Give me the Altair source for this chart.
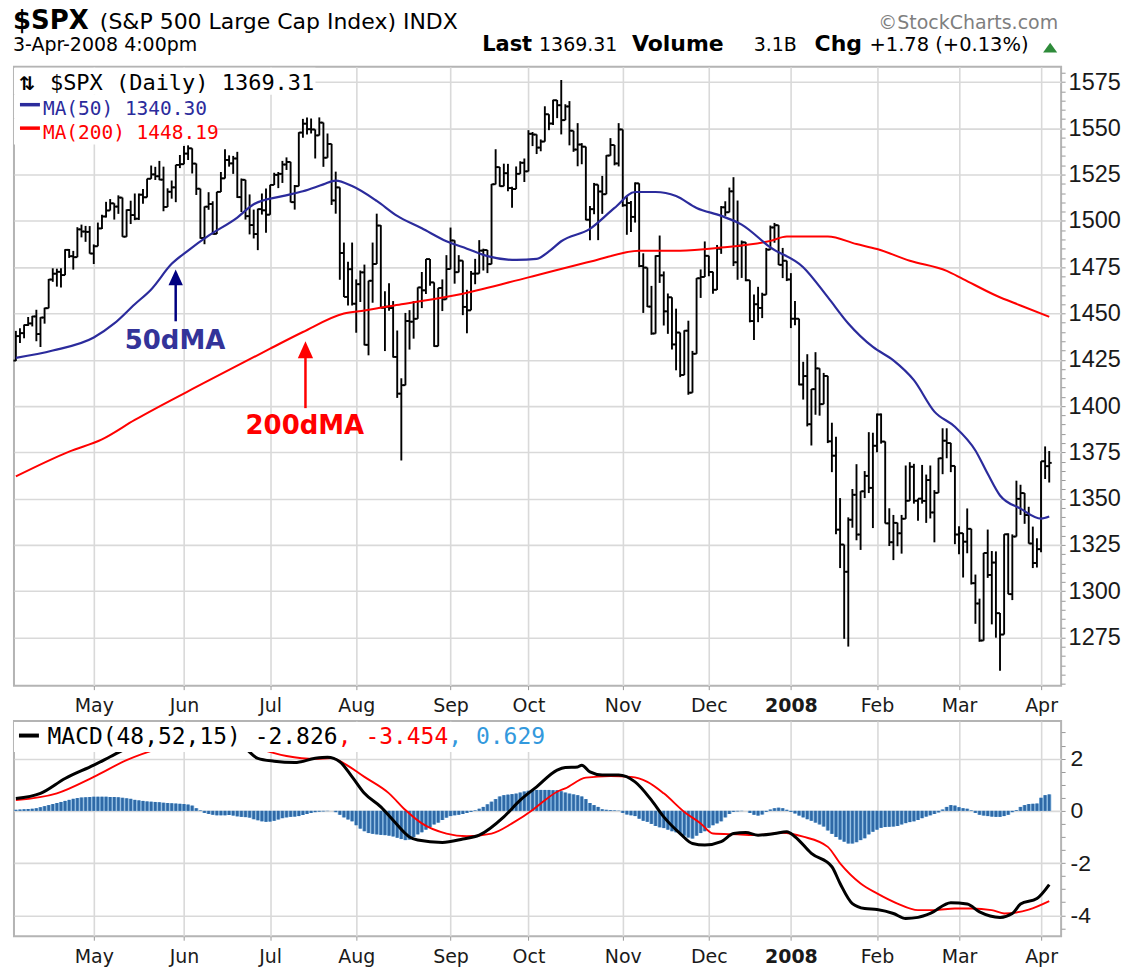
import altair as alt
import pandas as pd
import numpy as np

# ---------------- data ----------------
prev_close = 1424.55  # close of the day before the first bar (open of first bar)

closes = [
    # Apr 2007
    1437.77, 1439.37, 1443.76, 1444.61, 1448.39, 1438.87, 1447.80, 1452.85, 1468.33, 1471.48,
    1472.50, 1470.73, 1484.35, 1480.93, 1480.41, 1495.42, 1494.25, 1494.07, 1482.37,
    # May
    1486.30, 1495.92, 1502.39, 1505.62, 1509.48, 1507.72, 1512.58, 1491.47, 1505.85, 1503.15,
    1501.19, 1514.14, 1512.75, 1522.75, 1525.10, 1524.12, 1522.28, 1507.51, 1515.73, 1518.11,
    1530.23, 1530.62,
    # Jun
    1536.34, 1539.18, 1530.95, 1517.38, 1490.72, 1507.67, 1509.12, 1493.00, 1515.67, 1522.97,
    1532.91, 1531.05, 1533.70, 1512.84, 1522.19, 1502.56, 1497.74, 1492.89, 1506.34, 1505.71,
    1503.35,
    # Jul
    1519.43, 1524.87, 1525.40, 1530.44, 1531.85, 1510.12, 1518.76, 1547.70, 1552.50, 1549.52,
    1549.37, 1546.17, 1553.08, 1534.10, 1541.57, 1511.04, 1518.09, 1482.66, 1458.95, 1473.91,
    1455.27,
    # Aug
    1465.81, 1472.20, 1433.06, 1467.67, 1476.71, 1497.49, 1453.09, 1453.64, 1452.92, 1426.54,
    1406.70, 1411.27, 1445.94, 1445.55, 1447.12, 1464.07, 1462.50, 1479.37, 1466.79, 1432.36,
    1463.76, 1457.64, 1473.99,
    # Sep
    1489.42, 1472.29, 1478.55, 1453.55, 1451.70, 1471.49, 1471.56, 1483.95, 1484.25, 1476.65,
    1519.78, 1529.03, 1518.75, 1525.75, 1517.73, 1517.21, 1525.42, 1531.38, 1526.75,
    # Oct
    1547.04, 1546.63, 1539.59, 1542.84, 1557.59, 1552.58, 1565.15, 1562.47, 1554.41, 1561.80,
    1548.71, 1538.53, 1541.24, 1540.08, 1500.63, 1506.33, 1519.59, 1515.88, 1514.40, 1535.28,
    1540.98, 1531.02, 1549.38,
    # Nov
    1508.44, 1509.65, 1502.17, 1520.27, 1475.62, 1474.77, 1453.70, 1439.18, 1481.05, 1470.58,
    1451.15, 1458.74, 1433.27, 1439.70, 1416.77, 1440.70, 1407.22, 1428.23, 1469.02, 1469.72,
    1481.14,
    # Dec
    1472.42, 1462.79, 1485.01, 1507.34, 1504.66, 1515.96, 1477.65, 1486.59, 1488.41, 1467.95,
    1445.90, 1454.98, 1453.00, 1460.12, 1484.46, 1496.45, 1497.66, 1476.27, 1478.49, 1468.36,
    # Jan 2008
    1447.16, 1447.16, 1411.63, 1416.18, 1390.19, 1409.13, 1420.33, 1401.02, 1416.25, 1380.95,
    1373.20, 1333.25, 1325.19, 1310.50, 1338.60, 1352.07, 1330.61, 1353.96, 1362.30, 1355.81,
    1378.55,
    # Feb
    1395.42, 1380.82, 1336.64, 1326.45, 1336.91, 1331.29, 1339.13, 1348.86, 1367.21, 1348.86,
    1349.99, 1348.78, 1360.03, 1342.53, 1353.11, 1371.80, 1381.29, 1380.02, 1367.68, 1330.63,
    # Mar
    1331.34, 1326.75, 1333.70, 1304.34, 1293.37, 1273.37, 1320.65, 1308.77, 1315.48, 1288.14,
    1276.60, 1330.74, 1298.42, 1329.51, 1349.88, 1352.99, 1341.13, 1325.76, 1315.22, 1322.70,
    # Apr
    1370.18, 1367.53, 1369.31,
]

highs = [
    1440.6, 1442.0, 1444.0, 1448.1, 1448.7, 1452.0, 1448.0, 1453.1, 1468.6, 1474.4,
    1474.2, 1474.4, 1484.7, 1484.8, 1483.8, 1496.6, 1498.0, 1497.3, 1497.2,
    1487.3, 1499.1, 1503.3, 1510.3, 1511.8, 1509.5, 1513.8, 1512.6, 1506.2, 1510.9,
    1514.8, 1514.8, 1517.2, 1522.8, 1529.9, 1529.2, 1532.4, 1529.3, 1517.6, 1521.8,
    1530.3, 1535.6,
    1540.5, 1540.8, 1539.2, 1531.0, 1517.4, 1507.8, 1515.5, 1510.6, 1515.7, 1526.4,
    1538.7, 1535.4, 1535.1, 1537.3, 1522.9, 1522.2, 1514.3, 1506.1, 1506.6, 1514.8,
    1517.5,
    1519.5, 1526.0, 1526.4, 1532.4, 1534.3, 1531.9, 1519.4, 1547.9, 1555.1, 1555.9,
    1555.3, 1549.4, 1555.9, 1553.1, 1547.2, 1541.6, 1526.6, 1518.1, 1488.3, 1477.9,
    1488.3,
    1468.4, 1473.2, 1476.4, 1467.7, 1488.3, 1503.9, 1497.7, 1462.0, 1466.3, 1456.7,
    1440.8, 1415.0, 1450.3, 1451.8, 1456.7, 1464.1, 1472.4, 1479.4, 1479.4, 1466.8,
    1463.8, 1468.4, 1481.5,
    1496.4, 1489.5, 1481.5, 1478.6, 1462.8, 1473.0, 1479.5, 1489.6, 1485.0, 1484.3,
    1519.9, 1538.7, 1529.1, 1530.9, 1530.8, 1518.4, 1529.4, 1532.2, 1533.7,
    1549.0, 1548.0, 1546.7, 1544.0, 1561.9, 1557.6, 1565.4, 1565.3, 1576.1, 1563.0,
    1564.7, 1548.7, 1552.8, 1542.0, 1540.1, 1508.0, 1520.5, 1519.6, 1524.3, 1535.5,
    1544.7, 1541.0, 1552.8,
    1549.4, 1513.0, 1510.8, 1520.8, 1520.3, 1482.5, 1474.8, 1464.9, 1481.4, 1492.1,
    1472.7, 1460.8, 1458.8, 1452.6, 1439.7, 1440.9, 1446.1, 1429.8, 1469.1, 1473.8,
    1488.9,
    1481.2, 1472.5, 1487.0, 1508.0, 1510.6, 1518.0, 1523.6, 1511.0, 1489.4, 1488.5,
    1468.0, 1460.2, 1464.4, 1461.2, 1485.4, 1497.5, 1498.9, 1497.7, 1485.4, 1478.5,
    1471.8, 1456.8, 1447.2, 1423.9, 1428.0, 1409.2, 1429.1, 1420.4, 1417.9, 1416.3,
    1391.0, 1383.4, 1350.3, 1325.2, 1339.9, 1355.2, 1368.6, 1354.0, 1364.9, 1385.9,
    1385.6,
    1396.0, 1396.0, 1380.9, 1344.8, 1341.2, 1337.0, 1341.2, 1367.9, 1369.7, 1368.8,
    1350.0, 1368.2, 1363.0, 1367.9, 1354.6, 1372.0, 1388.0, 1388.0, 1380.1, 1367.7,
    1335.1, 1331.4, 1344.7, 1333.7, 1309.0, 1296.0, 1320.7, 1333.3, 1321.7, 1321.5,
    1288.2, 1330.8, 1331.3, 1330.7, 1359.7, 1357.5, 1353.0, 1345.6, 1334.9, 1328.6,
    1370.2, 1378.2, 1375.7,
]

lows = [
    1424.3, 1434.0, 1436.6, 1443.3, 1443.0, 1435.0, 1431.9, 1444.5, 1452.8, 1467.1,
    1464.5, 1464.0, 1470.7, 1480.0, 1473.7, 1480.4, 1491.1, 1488.7, 1482.3,
    1476.7, 1486.3, 1495.6, 1501.8, 1505.6, 1500.7, 1503.8, 1491.4, 1491.4, 1498.3,
    1500.4, 1500.5, 1509.3, 1512.7, 1522.7, 1522.1, 1522.0, 1505.2, 1507.5, 1512.0,
    1510.1, 1528.5,
    1530.6, 1532.9, 1525.6, 1514.0, 1490.4, 1487.4, 1506.0, 1492.7, 1492.9, 1515.6,
    1522.9, 1529.3, 1525.4, 1512.4, 1504.8, 1500.7, 1492.7, 1490.5, 1484.2, 1503.4,
    1493.6,
    1503.3, 1519.4, 1517.7, 1520.5, 1527.5, 1510.0, 1506.1, 1518.7, 1544.9, 1546.7,
    1547.2, 1533.7, 1546.1, 1529.2, 1534.1, 1508.6, 1503.9, 1468.2, 1458.9, 1454.3,
    1454.3,
    1439.6, 1456.2, 1432.8, 1427.4, 1455.8, 1476.7, 1453.0, 1429.7, 1451.5, 1426.2,
    1404.4, 1370.6, 1411.2, 1430.5, 1436.4, 1447.1, 1452.9, 1460.5, 1465.0, 1432.0,
    1432.3, 1451.3, 1457.6,
    1473.9, 1466.1, 1472.2, 1449.1, 1439.3, 1451.7, 1465.8, 1471.5, 1473.2, 1471.8,
    1476.6, 1519.7, 1518.5, 1518.7, 1516.0, 1507.1, 1517.2, 1525.4, 1521.0,
    1526.7, 1540.4, 1536.1, 1537.6, 1542.8, 1549.0, 1551.8, 1555.5, 1546.7, 1554.4,
    1540.8, 1537.3, 1529.5, 1530.6, 1500.3, 1489.6, 1503.6, 1489.6, 1503.8, 1514.4,
    1535.2, 1530.0, 1529.4,
    1507.6, 1492.5, 1494.0, 1499.1, 1475.0, 1450.3, 1453.5, 1438.5, 1439.1, 1466.5,
    1443.5, 1439.0, 1430.5, 1419.3, 1415.6, 1416.7, 1406.1, 1407.2, 1428.2, 1458.4,
    1469.7,
    1470.1, 1460.6, 1462.7, 1482.2, 1502.7, 1504.6, 1475.6, 1468.2, 1469.2, 1467.4,
    1445.2, 1435.7, 1445.3, 1447.5, 1460.1, 1484.4, 1488.2, 1476.2, 1469.1, 1467.5,
    1442.1, 1443.7, 1411.2, 1403.5, 1389.0, 1378.7, 1395.3, 1394.8, 1401.0, 1380.0,
    1364.3, 1330.7, 1312.5, 1274.3, 1270.1, 1334.3, 1327.5, 1322.3, 1350.3, 1353.0,
    1334.1,
    1375.0, 1379.7, 1336.6, 1324.4, 1316.8, 1324.3, 1320.3, 1339.1, 1348.8, 1347.3,
    1338.1, 1347.3, 1336.9, 1339.3, 1326.4, 1353.1, 1363.2, 1371.8, 1364.3, 1325.4,
    1320.0, 1307.4, 1320.5, 1303.6, 1282.4, 1272.7, 1273.3, 1307.2, 1282.1, 1274.9,
    1256.98, 1276.6, 1298.4, 1295.2, 1329.5, 1341.2, 1336.4, 1325.7, 1312.5, 1312.8,
    1321.0, 1360.6, 1358.7,
]

# month boundaries (trading-day index) and their labels
month_idx = [19, 41, 62, 83, 106, 125, 148, 169, 189, 210, 230, 250]
month_lbl = ["May", "Jun", "Jul", "Aug", "Sep", "Oct", "Nov", "Dec", "2008", "Feb", "Mar", "Apr"]

# moving averages (read at sample days)
ma50_idx = [0, 9, 19, 24, 29, 33, 38, 42, 47, 54, 58, 65, 70, 75, 78, 82, 88, 93, 99, 105,
            110, 115, 122, 127, 130, 133, 140, 146, 151, 156, 161, 166, 172, 177, 184, 192,
            198, 203, 209, 214, 219, 224, 229, 234, 237, 240, 245, 250, 252]
ma50_val = [1426, 1430, 1437, 1444.6, 1455, 1463, 1476.8, 1484, 1492, 1501.8, 1509, 1513.4,
            1516, 1519.7, 1521.8, 1518.8, 1510.8, 1502.7, 1496, 1489, 1485, 1481, 1478.9,
            1479.5, 1483.5, 1489, 1495.7, 1507, 1515.6, 1515.6, 1513.4, 1507, 1502.7, 1498,
            1485.7, 1475, 1458.8, 1444.6, 1431.9, 1424.7, 1414, 1397, 1388.8, 1376, 1363.4,
            1351.7, 1344.6, 1339.2, 1340.30]

ma200_idx = [0, 13, 21, 29, 46, 62, 70, 80, 85, 94, 109, 125, 141, 152, 162, 172, 184, 188,
             198, 205, 210, 218, 227, 231, 239, 245, 252]
ma200_val = [1362, 1375.4, 1382, 1392.5, 1412.6, 1431, 1440, 1450, 1451.6, 1455, 1460.7,
             1469.5, 1478.5, 1483.9, 1483.9, 1485.6, 1489.2, 1491.6, 1491.6, 1487.5, 1484.8,
             1478.5, 1473, 1468.6, 1459.7, 1454.3, 1448.19]

# MACD(48,52,15)
macd_idx = [0, 6, 12, 19, 23, 27, 33, 40, 46, 51, 56, 59, 63, 68, 73, 76, 79, 82, 85, 89,
            92, 96, 98, 104, 109, 113, 119, 123, 127, 132, 134, 137, 138, 140, 143, 147, 151,
            155, 158, 162, 165, 168, 172, 175, 178, 181, 185, 188, 190, 194, 199, 201, 204,
            207, 210, 214, 217, 220, 223, 228, 232, 235, 240, 243, 245, 249, 252]
macd_val = [0.47, 0.67, 1.24, 1.75, 2.07, 2.39, 2.75, 3.0, 3.1, 2.95, 2.39, 2.01, 1.90, 1.85,
            2.01, 2.05, 1.88, 1.30, 0.67, 0.15, -0.36, -1.0, -1.12, -1.21, -1.08, -0.93, -0.23,
            0.41, 0.92, 1.56, 1.66, 1.68, 1.75, 1.49, 1.37, 1.37, 1.11, 0.41, -0.23, -0.87,
            -1.25, -1.31, -1.18, -0.87, -0.83, -0.93, -0.87, -0.80, -0.99, -1.63, -2.14,
            -2.78, -3.55, -3.74, -3.78, -3.93, -4.12, -4.08, -3.93, -3.52, -3.57, -3.87,
            -4.08, -3.93, -3.57, -3.36, -2.826]

sig_idx = [0, 10, 19, 27, 35, 40, 45, 50, 55, 59, 66, 73, 77, 80, 85, 91, 95, 99, 105, 110,
           116, 121, 126, 128, 132, 134, 139, 145, 150, 154, 158, 163, 167, 170, 176, 181,
           187, 192, 198, 201, 206, 210, 215, 220, 224, 229, 233, 238, 241, 247, 252]
sig_val = [0.41, 0.67, 1.30, 1.94, 2.39, 2.6, 2.75, 2.75, 2.6, 2.39, 2.10, 1.99, 2.02, 1.82,
           1.30, 0.67, 0.03, -0.48, -0.87, -0.97, -0.87, -0.48, 0.03, 0.28, 0.73, 0.86, 1.27,
           1.33, 1.30, 1.11, 0.67, -0.04, -0.48, -0.87, -0.90, -0.93, -0.84, -0.99, -1.38,
           -2.01, -2.78, -3.16, -3.55, -3.80, -3.80, -3.74, -3.74, -3.80, -3.93, -3.78, -3.454]

hist_val = [
    0.04, 0.05, 0.06, 0.07, 0.08, 0.10,
    0.14, 0.18, 0.22, 0.26, 0.30, 0.34, 0.38, 0.42,
    0.46, 0.49, 0.51, 0.52, 0.53, 0.54, 0.54, 0.54, 0.54, 0.53, 0.53, 0.52,
    0.50, 0.48, 0.46,
    0.42, 0.40, 0.38, 0.36, 0.35, 0.34, 0.33,
    0.31, 0.30, 0.29, 0.28, 0.27, 0.26, 0.24, 0.20,
    0.10, 0.02,
    -0.08, -0.12, -0.15, -0.17, -0.17, -0.17, -0.16, -0.18,
    -0.21, -0.23, -0.24, -0.26,
    -0.32, -0.36, -0.40, -0.42, -0.41, -0.38,
    -0.33, -0.28, -0.25, -0.23, -0.22, -0.20,
    -0.16, -0.12, -0.08, -0.05, -0.03, -0.02, -0.01,
    0.00, -0.05,
    -0.15, -0.25, -0.33, -0.40,
    -0.55, -0.68, -0.78, -0.85, -0.88,
    -0.90, -0.92, -0.93, -0.95, -0.98, -1.03,
    -1.08, -1.12, -1.10, -1.00,
    -0.90, -0.82, -0.72, -0.62,
    -0.52, -0.45, -0.35,
    -0.26, -0.20, -0.17, -0.15, -0.12, -0.08,
    -0.04, 0.02, 0.08,
    0.15, 0.25, 0.35, 0.45, 0.55,
    0.60, 0.62, 0.64, 0.66, 0.70, 0.74,
    0.77, 0.79, 0.80, 0.80, 0.80, 0.80, 0.79, 0.79,
    0.75, 0.70, 0.66, 0.63, 0.60, 0.55, 0.45,
    0.30, 0.22, 0.15,
    0.06, 0.04, 0.03, 0.02, 0.01,
    -0.08, -0.14, -0.17, -0.20,
    -0.30, -0.38, -0.42,
    -0.50, -0.58, -0.63, -0.66,
    -0.72, -0.78, -0.82, -0.85,
    -0.95, -1.02, -1.06,
    -0.95, -0.85, -0.78,
    -0.65, -0.55, -0.48, -0.40,
    -0.25, -0.12,
    -0.04, -0.02, -0.01, 0.00,
    -0.08, -0.15, -0.18, -0.14,
    -0.04, 0.05, 0.10, 0.12, 0.10,
    0.04, -0.04, -0.10,
    -0.18, -0.25, -0.32, -0.38, -0.45, -0.52,
    -0.60, -0.75, -0.88, -1.00,
    -1.10, -1.18, -1.25, -1.25,
    -1.20, -1.12, -1.05,
    -0.90, -0.80, -0.72,
    -0.65, -0.62, -0.61, -0.60, -0.58,
    -0.52, -0.47, -0.43, -0.40,
    -0.35, -0.28, -0.22, -0.17, -0.12, -0.06,
    0.05, 0.15, 0.22,
    0.20, 0.14, 0.10, 0.08,
    0.02, -0.08, -0.15,
    -0.18, -0.20, -0.22, -0.23, -0.23, -0.20, -0.15,
    -0.05, 0.03,
    0.15, 0.22, 0.26, 0.27, 0.28,
    0.50, 0.60, 0.629,
]

price_ticks = list(range(1250, 1585, 5))
macd_ticks = [-4.5, -4.0, -3.5, -3.0, -2.5, -2.0, -1.5, -1.0, -0.5, 0.0, 0.5, 1.0, 1.5, 2.0, 2.5, 3.0]

# ---------------- styling ----------------
VERD = "DejaVu Sans"
MONO = "DejaVu Sans Mono"
ARIAL = "Liberation Sans"
GRID = "#d9d9d9"
NAVY = "#2b2b9c"
W = 1049
H_MAIN = 620
H_MACD = 215.5
BAR_W = 1.9

n = len(closes)
opens = [prev_close] + closes[:-1]
bars = pd.DataFrame({"idx": list(range(n)), "open": opens, "high": highs,
                     "low": lows, "close": closes})
hist = pd.DataFrame({"idx": list(range(len(hist_val))), "h": hist_val,
                     "zero": [0.0] * len(hist_val)})

xs = alt.Scale(domain=[-0.46, 254.9], nice=False, zero=False)
ys = alt.Scale(domain=[1249.0, 1583.25], nice=False, zero=False)
ms = alt.Scale(domain=[-4.80, 3.437], nice=False, zero=False)

lbl_expr = "[" + ",".join("'%s'" % m for m in month_lbl) + "][indexof([" + \
    ",".join(str(v) for v in month_idx) + "], datum.value)]"

X_AXIS = alt.Axis(values=month_idx, labelExpr=lbl_expr, grid=True, gridColor=GRID,
                  gridWidth=1.6, domain=False, ticks=True, tickSize=4, tickColor="#999999",
                  labelFont=VERD, labelFontSize=19, labelColor="#1a1a1a", labelPadding=7,
                  labelFontWeight={"condition": {"test": "datum.value == 189", "value": "bold"},
                                   "value": "normal"},
                  labelOverlap=False, labelFlush=False, labelAngle=0, title=None)

MAJOR_P = "datum.value % 25 == 0 && datum.value > 1260"
Y_AXIS = alt.Axis(orient="right", values=price_ticks,
                  labelExpr=MAJOR_P + " ? '' + datum.value : ''",
                  grid=True, gridColor=GRID, gridWidth=1.6,
                  gridOpacity={"condition": {"test": MAJOR_P, "value": 1}, "value": 0},
                  domain=False, tickSize=4, tickColor="#999999", labelFont=ARIAL,
                  labelFontSize=23.5, labelColor="#1a1a1a", labelPadding=3,
                  labelOverlap=False, labelBaseline="middle", title=None)

M_AXIS = alt.Axis(orient="right", values=macd_ticks,
                  labelExpr="datum.value % 2 == 0 ? '' + datum.value : ''",
                  grid=True, gridColor=GRID, gridWidth=1.6,
                  gridOpacity={"condition": {"test": "datum.value % 2 == 0", "value": 1}, "value": 0},
                  domain=False, tickSize=4, tickColor="#999999", labelFont=ARIAL,
                  labelFontSize=23, labelColor="#1a1a1a", labelPadding=5,
                  labelOverlap=False, labelBaseline="middle", title=None)


def X(field):
    return alt.X(field, scale=xs, axis=X_AXIS)


def YP(field):
    return alt.Y(field, scale=ys, axis=Y_AXIS)


def YM(field):
    return alt.Y(field, scale=ms, axis=M_AXIS)


def txt(s, x, y, size, color="black", font=VERD, weight="normal", align="left"):
    return alt.Chart(pd.DataFrame({"t": [s]})).mark_text(
        align=align, baseline="alphabetic", font=font, fontSize=size,
        fontWeight=weight, color=color).encode(x=alt.value(x), y=alt.value(y), text="t:N")


def box(x1, x2, y1, y2):
    return alt.Chart(pd.DataFrame({"a": [0]})).mark_rect(color="white").encode(
        x=alt.value(x1), x2=alt.value(x2), y=alt.value(y1), y2=alt.value(y2))


def hline(x1, x2, y, color, w):
    return alt.Chart(pd.DataFrame({"a": [0]})).mark_rule(color=color, strokeWidth=w).encode(
        x=alt.value(x1), x2=alt.value(x2), y=alt.value(y))


def vline(x, y1, y2, color, w):
    return alt.Chart(pd.DataFrame({"a": [0]})).mark_rule(color=color, strokeWidth=w).encode(
        x=alt.value(x), y=alt.value(y1), y2=alt.value(y2))


def tri(x, y, size, color, path):
    return alt.Chart(pd.DataFrame({"a": [0]})).mark_point(
        shape=path, filled=True, color=color, size=size, opacity=1, strokeWidth=0).encode(
        x=alt.value(x), y=alt.value(y))


# ---------------- main price panel ----------------
hl = alt.Chart(bars).mark_rule(color="black", strokeWidth=BAR_W).encode(
    x=X("idx:Q"), y=YP("low:Q"), y2="high:Q")
otick = alt.Chart(bars).transform_calculate(xo="datum.idx - 0.6").mark_rule(
    color="black", strokeWidth=BAR_W).encode(x=X("xo:Q"), x2="idx:Q", y=YP("open:Q"))
ctick = alt.Chart(bars).transform_calculate(xc="datum.idx + 0.6").mark_rule(
    color="black", strokeWidth=BAR_W).encode(x=X("idx:Q"), x2="xc:Q", y=YP("close:Q"))

ma50 = alt.Chart(pd.DataFrame({"idx": ma50_idx, "v": ma50_val})).mark_line(
    color=NAVY, strokeWidth=2.2, interpolate="monotone").encode(x=X("idx:Q"), y=YP("v:Q"))
ma200 = alt.Chart(pd.DataFrame({"idx": ma200_idx, "v": ma200_val})).mark_line(
    color="#ff0000", strokeWidth=2.0, interpolate="monotone").encode(x=X("idx:Q"), y=YP("v:Q"))

TRI = "M0,-1L0.9,1L-0.9,1Z"
main_layers = [
    hl, otick, ctick, ma200, ma50,
    # legend backgrounds
    box(0, 302, 1, 28), box(0, 187, 28, 52), box(0, 199, 52, 78),
    txt("\u21c5", 5, 23, 19, font=VERD, weight="bold"),
    txt("$SPX (Daily) 1369.31", 36, 23.5, 22, font=MONO),
    hline(6, 26, 38, NAVY, 3.5),
    txt("MA(50) 1340.30", 29, 48.5, 19.5, color=NAVY, font=MONO),
    hline(6, 26, 61.5, "#ff0000", 3.5),
    txt("MA(200) 1448.19", 29, 72.5, 19.5, color="#ff0000", font=MONO),
    # annotations
    txt("50dMA", 111, 283, 26, color="#333399", weight="bold"),
    vline(162, 218, 255, "#000080", 2.5),
    tri(162, 211, 256, "#000080", TRI),
    txt("200dMA", 232, 368, 26, color="#ff0000", weight="bold"),
    vline(292, 290, 342, "#ff0000", 2.5),
    tri(292, 283.5, 289, "#ff0000", TRI),
    # header
    txt("$SPX", -1, -37.5, 26, weight="bold"),
    txt("(S&P 500 Large Cap Index) INDX", 86, -37.5, 22),
    txt("\u00a9StockCharts.com", 1046, -38, 19, color="#7f7f7f", align="right"),
    txt("3-Apr-2008 4:00pm", -1, -15.5, 19),
    txt("Last", 469, -15.5, 21, weight="bold"),
    txt("1369.31", 526, -15.5, 19),
    txt("Volume", 619, -15.5, 22, weight="bold"),
    txt("3.1B", 741, -15.5, 19),
    txt("Chg", 802, -15.5, 22, weight="bold"),
    txt("+1.78 (+0.13%)", 857, -15.5, 19.5),
    tri(1038, -19.2, 200, "#2e8b3a", "M0,-0.7L1,0.7L-1,0.7Z"),
]
main = alt.layer(*main_layers).properties(width=W, height=H_MAIN)

# ---------------- MACD panel ----------------
hbg = alt.Chart(hist).mark_rule(color="#7aaedb", strokeWidth=4.1).encode(
    x=X("idx:Q"), y=YM("h:Q"), y2="zero:Q")
hfg = alt.Chart(hist).mark_rule(color="#2f69a6", strokeWidth=2.5).encode(
    x=X("idx:Q"), y=YM("h:Q"), y2="zero:Q")
sig = alt.Chart(pd.DataFrame({"idx": sig_idx, "v": sig_val})).mark_line(
    color="#ff0000", strokeWidth=1.9, interpolate="monotone", clip=True).encode(
    x=X("idx:Q"), y=YM("v:Q"))
macd = alt.Chart(pd.DataFrame({"idx": macd_idx, "v": macd_val})).mark_line(
    color="black", strokeWidth=3.0, interpolate="monotone", clip=True).encode(
    x=X("idx:Q"), y=YM("v:Q"))

CW = 0.602 * 23
p1 = 33.6
p2 = p1 + 21 * CW
p3 = p2 + 8 * CW
macd_layers = [
    hbg, hfg, sig, macd,
    box(0, p3 + 7 * CW + 6, 1, 31),
    hline(5, 25, 14.5, "black", 4),
    txt("MACD(48,52,15) -2.826", p1, 22.5, 23, font=MONO),
    txt(", -3.454", p2, 22.5, 23, color="#ff0000", font=MONO),
    txt(", 0.629", p3, 22.5, 23, color="#3399dd", font=MONO),
]
macd_panel = alt.layer(*macd_layers).properties(width=W, height=H_MACD)

chart = alt.vconcat(main, macd_panel, spacing=35.5, bounds="flush").properties(
    padding={"left": 10, "top": 6, "right": 5, "bottom": 5}, background="white"
).configure_view(stroke="#b4b4b4", strokeWidth=2)

chart.save("out.html", embed_options={"renderer": "svg", "actions": False})
